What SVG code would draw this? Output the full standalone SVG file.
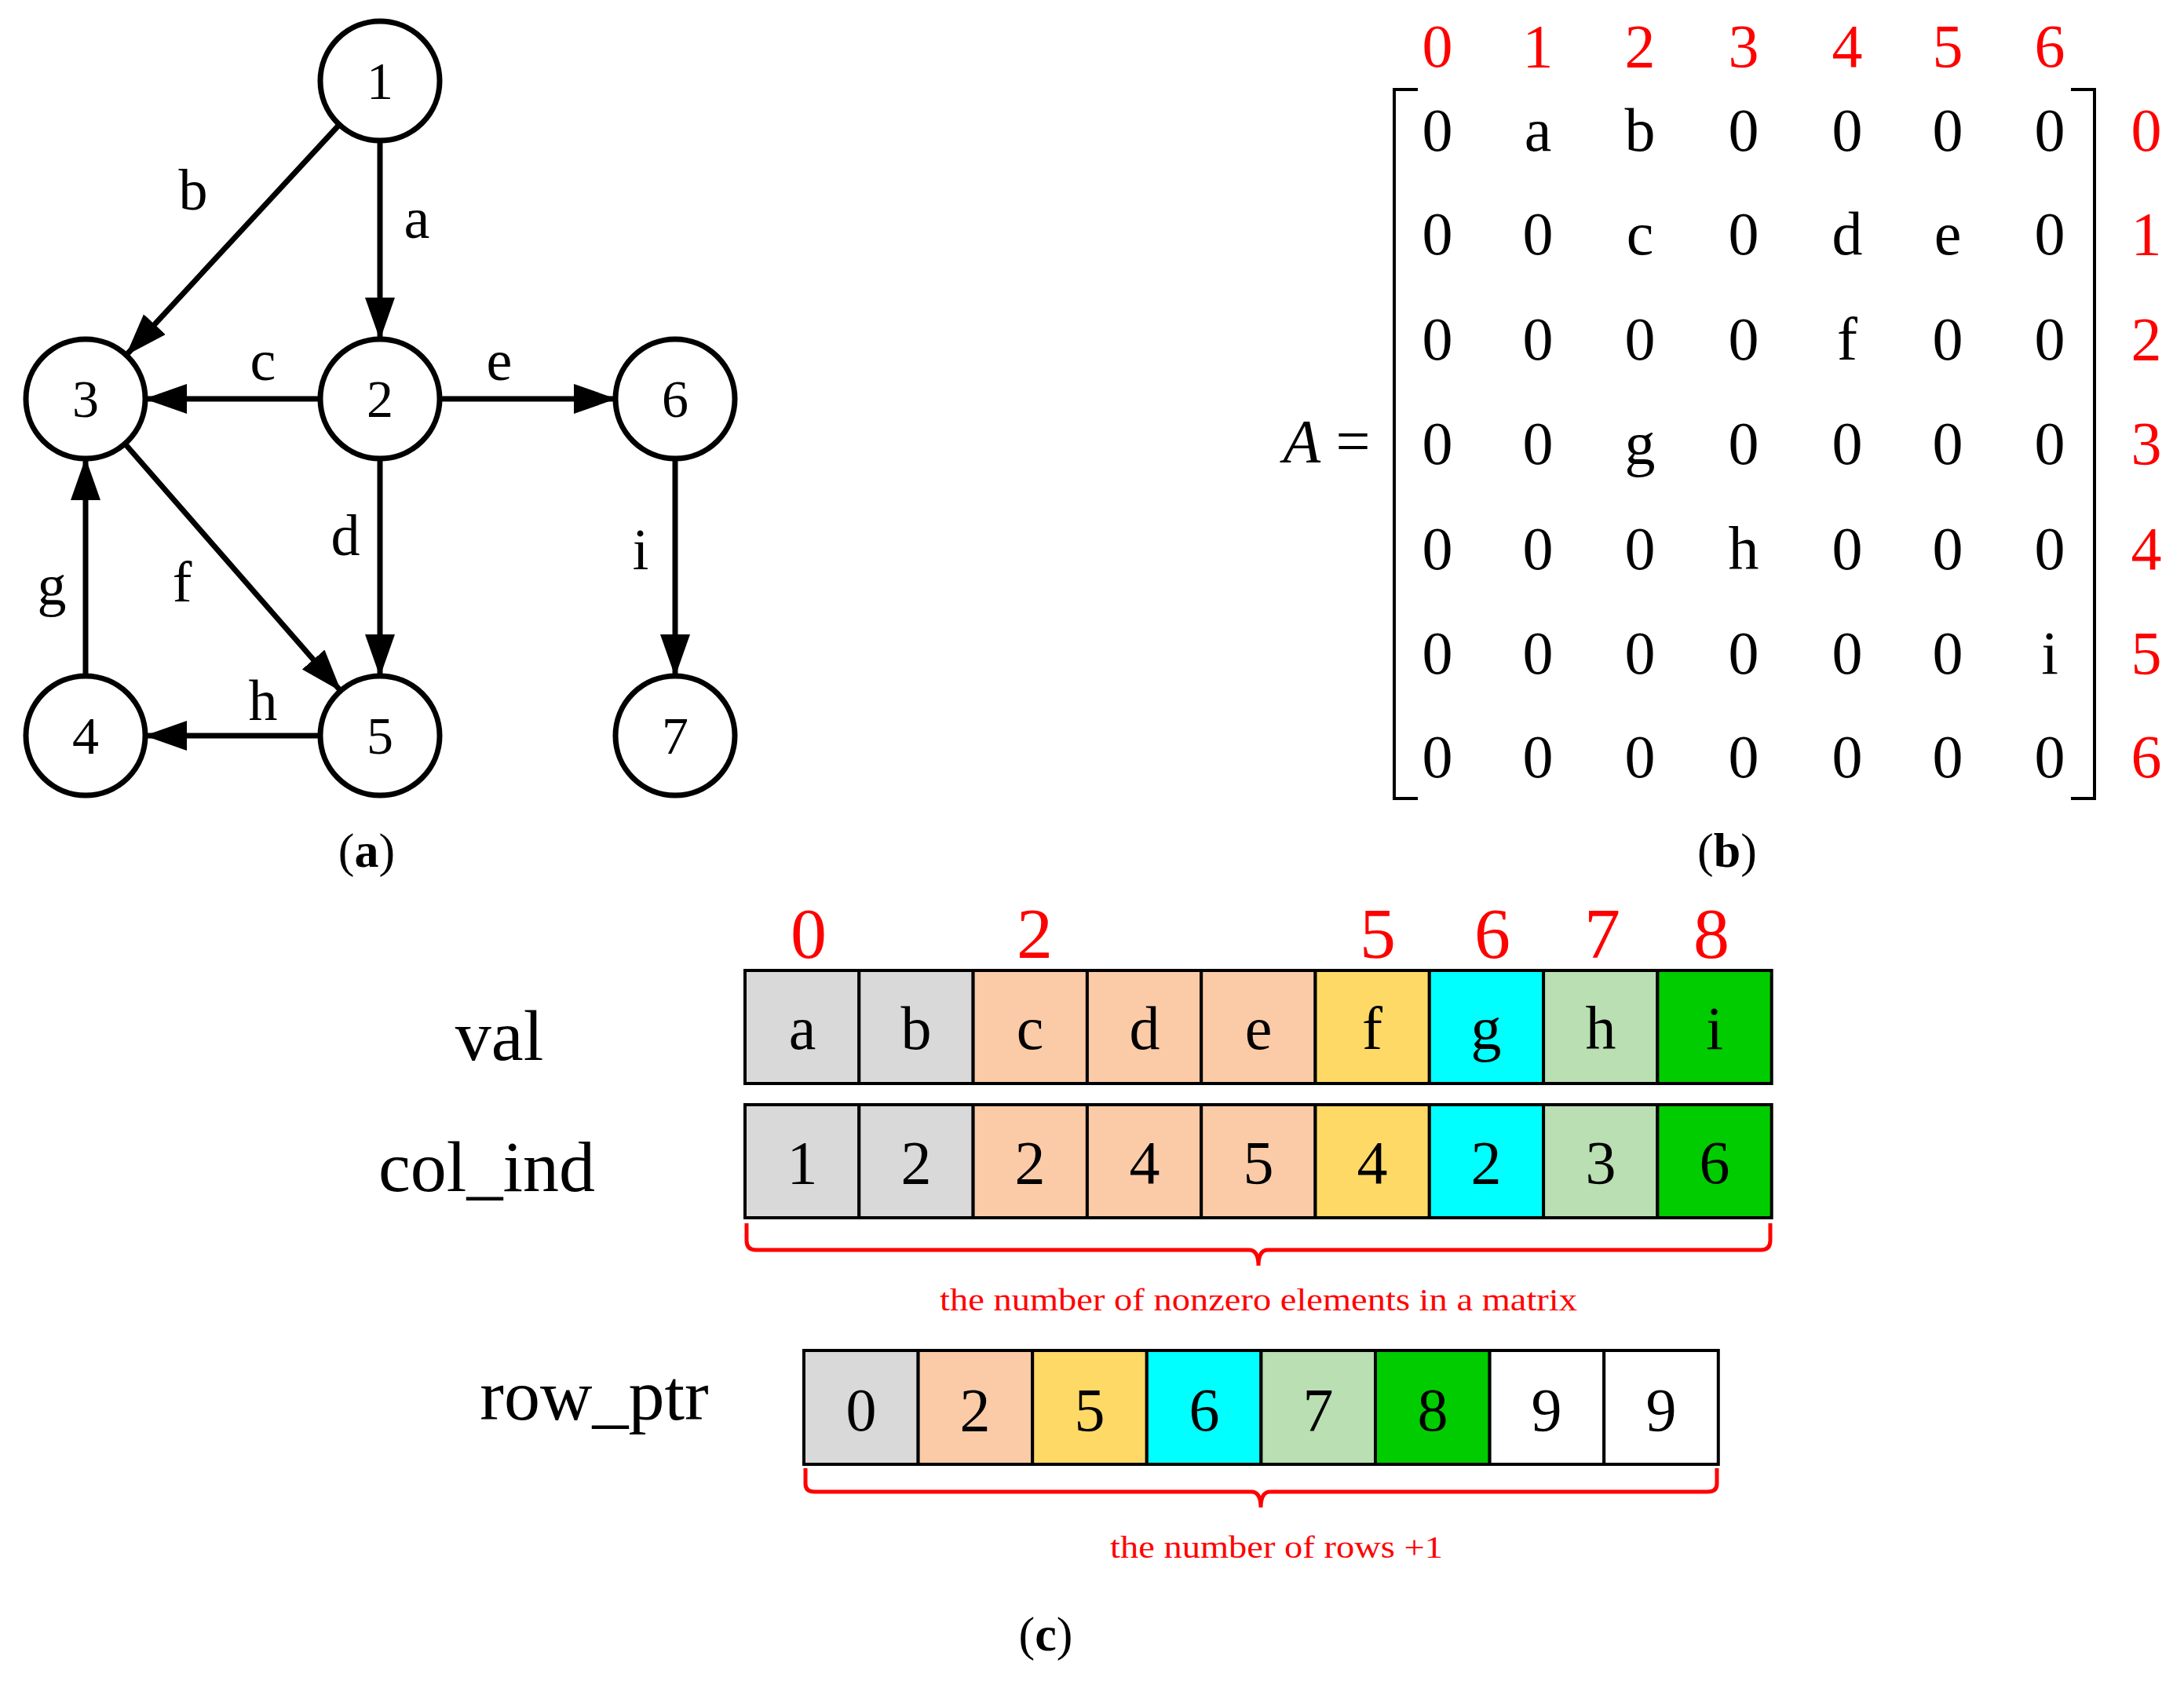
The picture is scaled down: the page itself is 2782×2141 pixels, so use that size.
<svg xmlns="http://www.w3.org/2000/svg" width="2782" height="2141" viewBox="0 0 2782 2141">
<defs>
<marker id="ah" markerUnits="userSpaceOnUse" markerWidth="56" markerHeight="40" refX="53" refY="19" orient="auto"><path d="M0,0 L54,19 L0,38 z" fill="#000"/></marker>
</defs>
<style>
text{font-family:"Liberation Serif","Times New Roman",serif;text-anchor:middle}
.n circle{fill:#fff;stroke:#000;stroke-width:7}
.n text{font-size:68px}
.e line{stroke:#000;stroke-width:7;marker-end:url(#ah)}
.el{font-size:74px}
.m{font-size:78px}
.r{fill:#f00}
.cell{stroke:#000;stroke-width:4}
.ct{font-size:78px}
.big{font-size:92px}
.br{fill:none;stroke:#f00;stroke-width:5}
.cap{font-size:62px}
</style>
<rect width="2782" height="2141" fill="#fff"/>
<g id="edges" class="e">
<line x1="484" y1="179" x2="484" y2="432"/>
<line x1="432" y1="159" x2="161" y2="452"/>
<line x1="408" y1="508" x2="185" y2="508"/>
<line x1="560" y1="508" x2="784" y2="508"/>
<line x1="484" y1="584" x2="484" y2="861"/>
<line x1="159" y1="565" x2="434" y2="880"/>
<line x1="109" y1="861" x2="109" y2="584"/>
<line x1="408" y1="937" x2="185" y2="937"/>
<line x1="860" y1="584" x2="860" y2="861"/>
</g>
<g id="edge-labels" class="el">
<text x="531" y="303">a</text><text x="246" y="267">b</text><text x="335" y="484">c</text><text x="636" y="484">e</text>
<text x="440" y="707">d</text><text x="232" y="766">f</text><text x="66" y="770">g</text><text x="816" y="725">i</text><text x="335" y="917">h</text>
</g>
<g id="node1" class="n"><circle cx="484" cy="103" r="76"/><text x="484" y="126">1</text></g>
<g id="node2" class="n"><circle cx="484" cy="508" r="76"/><text x="484" y="531">2</text></g>
<g id="node3" class="n"><circle cx="109" cy="508" r="76"/><text x="109" y="531">3</text></g>
<g id="node6" class="n"><circle cx="860" cy="508" r="76"/><text x="860" y="531">6</text></g>
<g id="node4" class="n"><circle cx="109" cy="937" r="76"/><text x="109" y="960">4</text></g>
<g id="node5" class="n"><circle cx="484" cy="937" r="76"/><text x="484" y="960">5</text></g>
<g id="node7" class="n"><circle cx="860" cy="937" r="76"/><text x="860" y="960">7</text></g>
<text class="cap" x="467" y="1104">(<tspan font-weight="bold">a</tspan>)</text>

<g id="matrix">
<g class="m r">
<text x="1831" y="85">0</text><text x="1959" y="85">1</text><text x="2089" y="85">2</text><text x="2221" y="85">3</text><text x="2353" y="85">4</text><text x="2481" y="85">5</text><text x="2611" y="85">6</text>
<text x="2734" y="192">0</text><text x="2734" y="324">1</text><text x="2734" y="458">2</text><text x="2734" y="591">3</text><text x="2734" y="725">4</text><text x="2734" y="858">5</text><text x="2734" y="990">6</text>
</g>
<g class="m">
<text x="1831" y="192">0</text><text x="1959" y="192">a</text><text x="2089" y="192">b</text><text x="2221" y="192">0</text><text x="2353" y="192">0</text><text x="2481" y="192">0</text><text x="2611" y="192">0</text>
<text x="1831" y="324">0</text><text x="1959" y="324">0</text><text x="2089" y="324">c</text><text x="2221" y="324">0</text><text x="2353" y="324">d</text><text x="2481" y="324">e</text><text x="2611" y="324">0</text>
<text x="1831" y="458">0</text><text x="1959" y="458">0</text><text x="2089" y="458">0</text><text x="2221" y="458">0</text><text x="2353" y="458">f</text><text x="2481" y="458">0</text><text x="2611" y="458">0</text>
<text x="1831" y="591">0</text><text x="1959" y="591">0</text><text x="2089" y="591">g</text><text x="2221" y="591">0</text><text x="2353" y="591">0</text><text x="2481" y="591">0</text><text x="2611" y="591">0</text>
<text x="1831" y="725">0</text><text x="1959" y="725">0</text><text x="2089" y="725">0</text><text x="2221" y="725">h</text><text x="2353" y="725">0</text><text x="2481" y="725">0</text><text x="2611" y="725">0</text>
<text x="1831" y="858">0</text><text x="1959" y="858">0</text><text x="2089" y="858">0</text><text x="2221" y="858">0</text><text x="2353" y="858">0</text><text x="2481" y="858">0</text><text x="2611" y="858">i</text>
<text x="1831" y="990">0</text><text x="1959" y="990">0</text><text x="2089" y="990">0</text><text x="2221" y="990">0</text><text x="2353" y="990">0</text><text x="2481" y="990">0</text><text x="2611" y="990">0</text>
<text x="1690" y="588"><tspan font-style="italic">A</tspan> =</text>
</g>
<path d="M1806,114 H1776 V1017 H1806 M2638,114 H2668 V1017 H2638" fill="none" stroke="#000" stroke-width="4"/>
</g>
<text class="cap" x="2200" y="1104">(<tspan font-weight="bold">b</tspan>)</text>

<g id="val">
<g class="cell">
<rect x="949" y="1236" width="145.3" height="144" fill="#d9d9d9"/><rect x="1094.3" y="1236" width="145.3" height="144" fill="#d9d9d9"/>
<rect x="1239.6" y="1236" width="145.3" height="144" fill="#fbcba7"/><rect x="1384.9" y="1236" width="145.3" height="144" fill="#fbcba7"/><rect x="1530.2" y="1236" width="145.3" height="144" fill="#fbcba7"/>
<rect x="1675.5" y="1236" width="145.3" height="144" fill="#ffd966"/><rect x="1820.8" y="1236" width="145.3" height="144" fill="#00ffff"/><rect x="1966.1" y="1236" width="145.3" height="144" fill="#b9dfb3"/><rect x="2111.4" y="1236" width="145.3" height="144" fill="#00cc00"/>
</g>
<g class="ct">
<text x="1022" y="1336">a</text><text x="1167" y="1336">b</text><text x="1312" y="1336">c</text><text x="1458" y="1336">d</text><text x="1603" y="1336">e</text><text x="1748" y="1336">f</text><text x="1893" y="1336">g</text><text x="2039" y="1336">h</text><text x="2184" y="1336">i</text>
</g>
<g class="r big">
<text x="1030" y="1220">0</text><text x="1318" y="1220">2</text><text x="1755" y="1220">5</text><text x="1901" y="1220">6</text><text x="2041" y="1220">7</text><text x="2180" y="1220">8</text>
</g>
<text class="big" x="636" y="1350">val</text>
</g>

<g id="col_ind">
<g class="cell">
<rect x="949" y="1407" width="145.3" height="144" fill="#d9d9d9"/><rect x="1094.3" y="1407" width="145.3" height="144" fill="#d9d9d9"/>
<rect x="1239.6" y="1407" width="145.3" height="144" fill="#fbcba7"/><rect x="1384.9" y="1407" width="145.3" height="144" fill="#fbcba7"/><rect x="1530.2" y="1407" width="145.3" height="144" fill="#fbcba7"/>
<rect x="1675.5" y="1407" width="145.3" height="144" fill="#ffd966"/><rect x="1820.8" y="1407" width="145.3" height="144" fill="#00ffff"/><rect x="1966.1" y="1407" width="145.3" height="144" fill="#b9dfb3"/><rect x="2111.4" y="1407" width="145.3" height="144" fill="#00cc00"/>
</g>
<g class="ct">
<text x="1022" y="1507">1</text><text x="1167" y="1507">2</text><text x="1312" y="1507">2</text><text x="1458" y="1507">4</text><text x="1603" y="1507">5</text><text x="1748" y="1507">4</text><text x="1893" y="1507">2</text><text x="2039" y="1507">3</text><text x="2184" y="1507">6</text>
</g>
<text class="big" x="620" y="1517">col_ind</text>
<path class="br" d="M951,1558 V1580 Q951,1592 963,1592 H1591 Q1603,1592 1603,1612 Q1603,1592 1615,1592 H2243 Q2255,1592 2255,1580 V1558"/>
<text class="r" x="1603" y="1669" font-size="40" textLength="812" lengthAdjust="spacingAndGlyphs">the number of nonzero elements in a matrix</text>
</g>

<g id="row_ptr">
<g class="cell">
<rect x="1024" y="1720" width="145.6" height="145" fill="#d9d9d9"/><rect x="1169.6" y="1720" width="145.6" height="145" fill="#fbcba7"/><rect x="1315.2" y="1720" width="145.6" height="145" fill="#ffd966"/><rect x="1460.8" y="1720" width="145.6" height="145" fill="#00ffff"/>
<rect x="1606.4" y="1720" width="145.6" height="145" fill="#b9dfb3"/><rect x="1752" y="1720" width="145.6" height="145" fill="#00cc00"/><rect x="1897.6" y="1720" width="145.6" height="145" fill="#fff"/><rect x="2043.2" y="1720" width="145.6" height="145" fill="#fff"/>
</g>
<g class="ct">
<text x="1097" y="1822">0</text><text x="1242" y="1822">2</text><text x="1388" y="1822">5</text><text x="1534" y="1822">6</text><text x="1679" y="1822">7</text><text x="1825" y="1822">8</text><text x="1970" y="1822">9</text><text x="2116" y="1822">9</text>
</g>
<text class="big" x="757" y="1808">row_ptr</text>
<path class="br" d="M1026,1870 V1890 Q1026,1900 1038,1900 H1594 Q1606,1900 1606,1920 Q1606,1900 1618,1900 H2175 Q2187,1900 2187,1890 V1870"/>
<text class="r" x="1626" y="1984" font-size="40" textLength="424" lengthAdjust="spacingAndGlyphs">the number of rows +1</text>
</g>
<text class="cap" x="1332" y="2102">(<tspan font-weight="bold">c</tspan>)</text>
</svg>
